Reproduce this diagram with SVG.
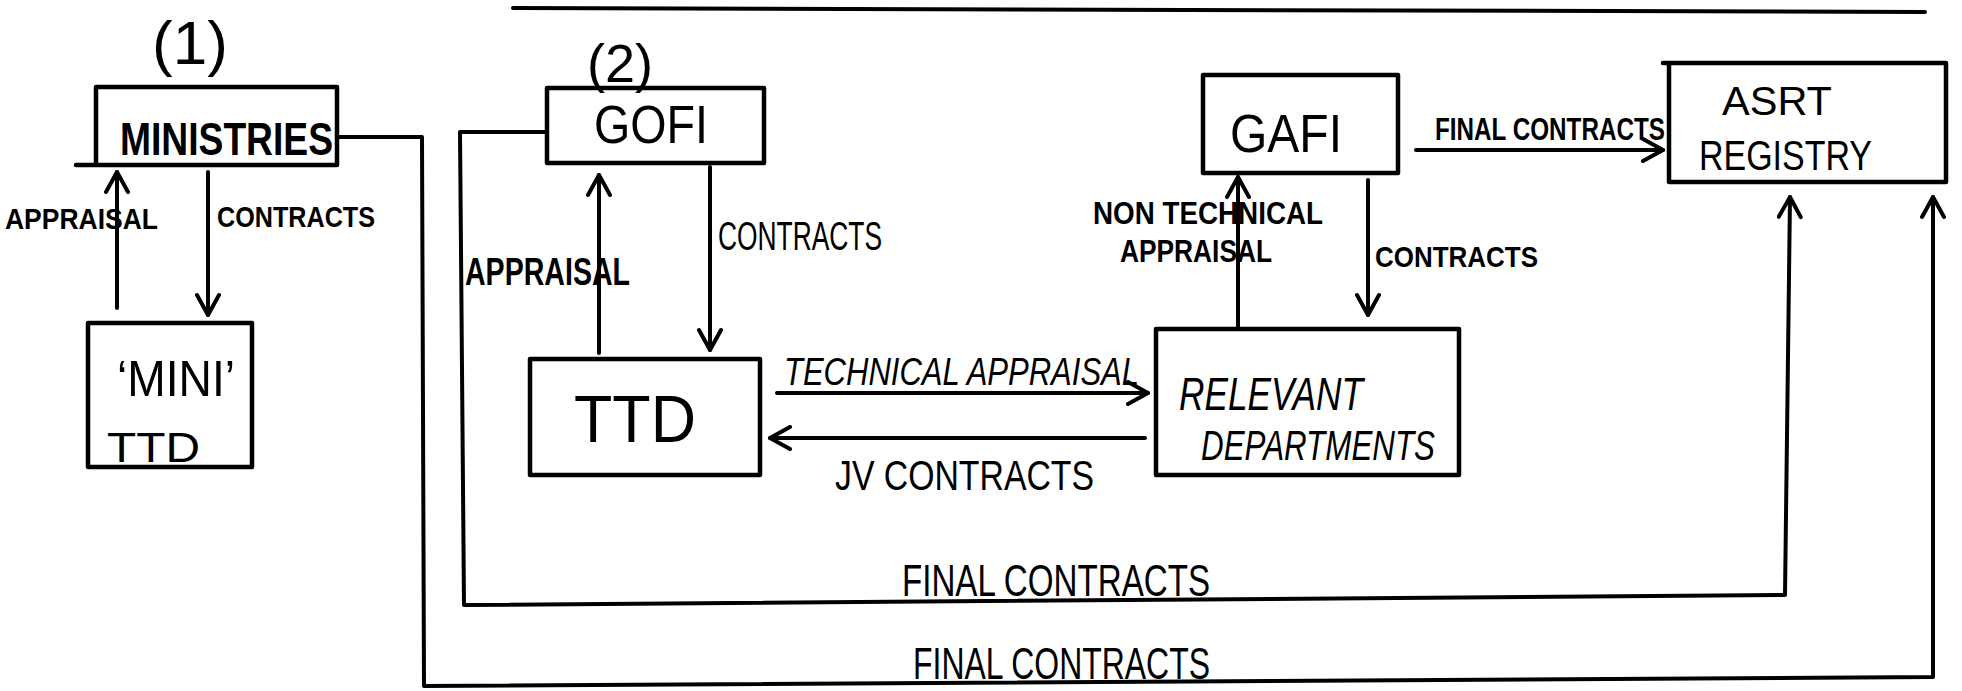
<svg xmlns="http://www.w3.org/2000/svg" width="1962" height="691" viewBox="0 0 1962 691">
<style>
.bx{fill:none;stroke:#000;stroke-width:4.5;stroke-linejoin:round;stroke-linecap:round}
.ln{fill:none;stroke:#000;stroke-width:4;stroke-linecap:round;stroke-linejoin:round}
.t{font-family:"Liberation Sans",Arial,sans-serif;font-weight:bold;fill:#000}
.h{font-family:"Liberation Sans",Arial,sans-serif;font-weight:normal;fill:#000}
</style>
<defs>
<marker id="ah" markerWidth="26" markerHeight="26" refX="23" refY="13" orient="auto" markerUnits="userSpaceOnUse" viewBox="0 0 26 26">
<path d="M3,2 L23,13 L3,24" fill="none" stroke="#000" stroke-width="4" stroke-linecap="round" stroke-linejoin="round"/>
</marker>
</defs>
<rect width="1962" height="691" fill="#fff"/>
<path class="ln" d="M513,8 L1925,12"/>
<text class="h" x="190" y="64" font-size="62" text-anchor="middle">(1)</text>
<text class="h" x="620" y="82" font-size="54" text-anchor="middle">(2)</text>
<g id="ministries">
<path class="bx" d="M96,87 L337,87 L337,165 L76,165 M96,87 L96,165"/>
<text class="t" x="120" y="155" font-size="46" textLength="213" lengthAdjust="spacingAndGlyphs">MINISTRIES</text>
</g>
<g id="mini-ttd">
<rect class="bx" x="88" y="323" width="164" height="144"/>
<text class="h" x="117" y="396" font-size="50" textLength="118" lengthAdjust="spacingAndGlyphs">‘MINI’</text>
<text class="h" x="107" y="462" font-size="42" textLength="93" lengthAdjust="spacingAndGlyphs">TTD</text>
</g>
<g id="gofi">
<rect class="bx" x="547" y="88" width="217" height="75"/>
<text class="h" x="594" y="143" font-size="54" textLength="114" lengthAdjust="spacingAndGlyphs">GOFI</text>
</g>
<g id="ttd">
<rect class="bx" x="530" y="359" width="230" height="116"/>
<text class="h" x="574" y="442" font-size="66" textLength="122" lengthAdjust="spacingAndGlyphs">TTD</text>
</g>
<g id="gafi">
<rect class="bx" x="1203" y="75" width="195" height="98"/>
<text class="h" x="1230" y="152" font-size="54" textLength="112" lengthAdjust="spacingAndGlyphs">GAFI</text>
</g>
<g id="relevant-departments">
<rect class="bx" x="1156" y="329" width="303" height="146"/>
<text class="h" x="1179" y="410" font-size="46" font-style="italic" textLength="184" lengthAdjust="spacingAndGlyphs">RELEVANT</text>
<text class="h" x="1201" y="460" font-size="42" font-style="italic" textLength="234" lengthAdjust="spacingAndGlyphs">DEPARTMENTS</text>
</g>
<g id="asrt-registry">
<path class="bx" d="M1663,63 L1946,63 L1946,182 L1669,182 L1669,63"/>
<text class="h" x="1722" y="115" font-size="40" textLength="110" lengthAdjust="spacingAndGlyphs">ASRT</text>
<text class="h" x="1699" y="170" font-size="42" textLength="173" lengthAdjust="spacingAndGlyphs">REGISTRY</text>
</g>
<g id="connectors">
<path class="ln" d="M117,308 L117,172" marker-end="url(#ah)"/>
<path class="ln" d="M208,172 L208,315" marker-end="url(#ah)"/>
<path class="ln" d="M599,353 L599,175" marker-end="url(#ah)"/>
<path class="ln" d="M710,167 L710,350" marker-end="url(#ah)"/>
<path class="ln" d="M777,393 L1148,393" marker-end="url(#ah)"/>
<path class="ln" d="M1145,438 L770,438" marker-end="url(#ah)"/>
<path class="ln" d="M1238,329 L1238,177" marker-end="url(#ah)"/>
<path class="ln" d="M1368,180 L1368,315" marker-end="url(#ah)"/>
<path class="ln" d="M1416,150 L1663,150" marker-end="url(#ah)"/>
<path class="ln" d="M547,132 L460,132 L464,605 L1785,595 L1790,197" marker-end="url(#ah)"/>
<path class="ln" d="M337,137 L422,137 L424,686 L1933,677 L1933,197" marker-end="url(#ah)"/>
</g>
<g id="labels">
<text class="t" x="5" y="229" font-size="30" textLength="153" lengthAdjust="spacingAndGlyphs">APPRAISAL</text>
<text class="t" x="217" y="227" font-size="30" textLength="158" lengthAdjust="spacingAndGlyphs">CONTRACTS</text>
<text class="t" x="465" y="285" font-size="38" textLength="165" lengthAdjust="spacingAndGlyphs">APPRAISAL</text>
<text class="h" x="718" y="250" font-size="40" textLength="164" lengthAdjust="spacingAndGlyphs">CONTRACTS</text>
<text class="h" x="784" y="385" font-size="38" font-style="italic" textLength="355" lengthAdjust="spacingAndGlyphs">TECHNICAL APPRAISAL</text>
<text class="h" x="835" y="490" font-size="42" textLength="259" lengthAdjust="spacingAndGlyphs">JV CONTRACTS</text>
<text class="t" x="1093" y="224" font-size="32" textLength="230" lengthAdjust="spacingAndGlyphs">NON TECHNICAL</text>
<text class="t" x="1120" y="262" font-size="32" textLength="152" lengthAdjust="spacingAndGlyphs">APPRAISAL</text>
<text class="t" x="1375" y="267" font-size="30" textLength="163" lengthAdjust="spacingAndGlyphs">CONTRACTS</text>
<text class="t" x="1435" y="140" font-size="32" textLength="230" lengthAdjust="spacingAndGlyphs">FINAL CONTRACTS</text>
<text class="h" x="902" y="596" font-size="44" textLength="308" lengthAdjust="spacingAndGlyphs">FINAL CONTRACTS</text>
<text class="h" x="913" y="679" font-size="44" textLength="297" lengthAdjust="spacingAndGlyphs">FINAL CONTRACTS</text>
</g>
</svg>
